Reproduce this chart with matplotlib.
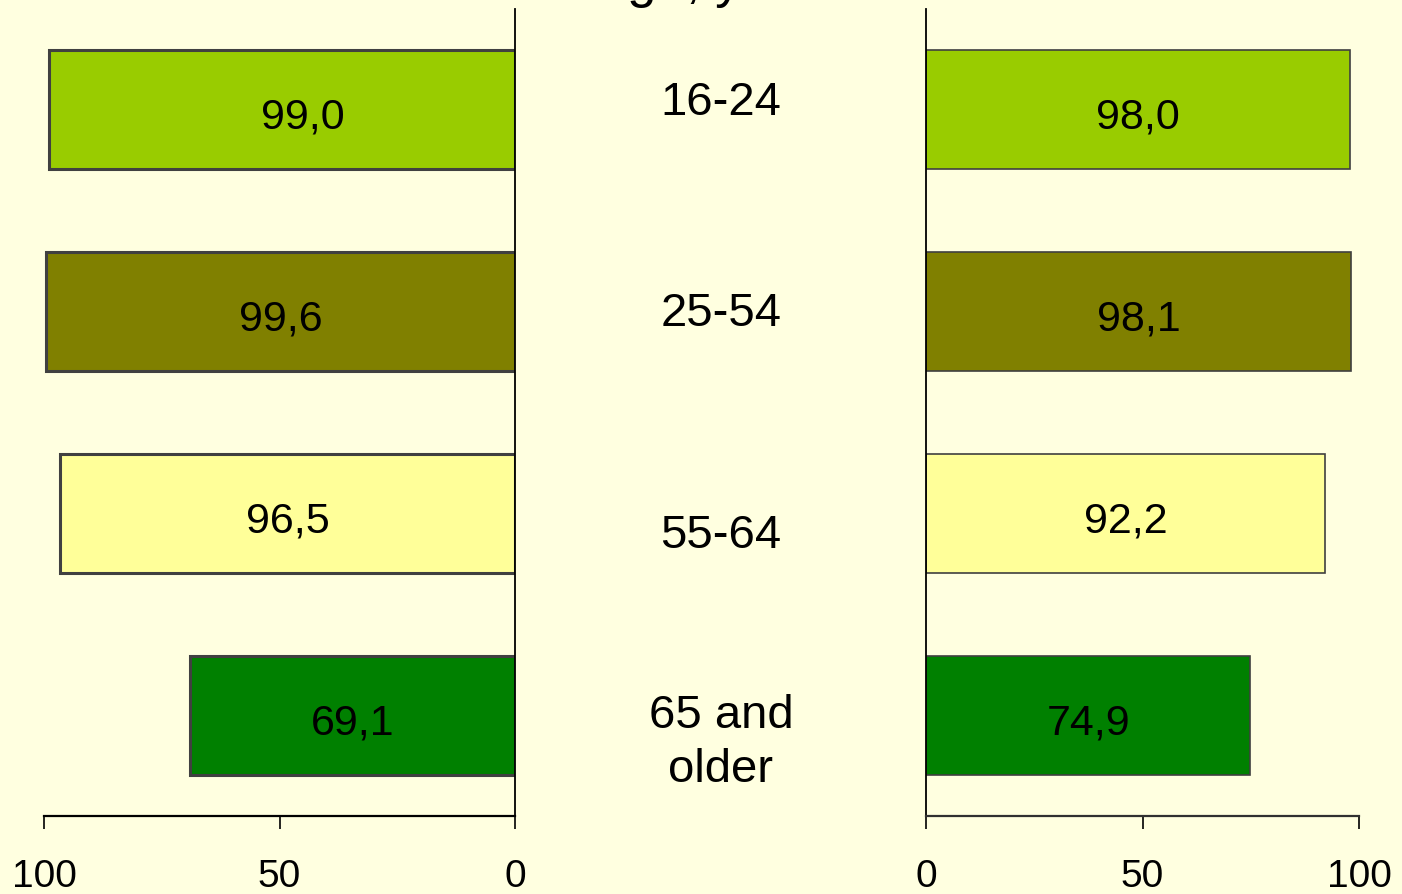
import matplotlib
matplotlib.use("Agg")
import matplotlib.pyplot as plt

categories = ["16-24", "25-54", "55-64", "65 and\nolder"]
left_values = [99.0, 99.6, 96.5, 69.1]
right_values = [98.0, 98.1, 92.2, 74.9]
left_labels = ["99,0", "99,6", "96,5", "69,1"]
right_labels = ["98,0", "98,1", "92,2", "74,9"]
colors = ["#99CC00", "#808000", "#FFFF99", "#008000"]
ticks = [0, 50, 100]
tick_labels = ["0", "50", "100"]

plt.rcParams['font.family'] = ['Liberation Sans', 'DejaVu Sans']
BG = "#FFFFE0"
W, H = 1402, 895
fig = plt.figure(figsize=(W / 100, H / 100), dpi=100, facecolor=BG)

def px_rect(x0, x1, ytop, ybot):
    return [x0 / W, 1 - ybot / H, (x1 - x0) / W, (ybot - ytop) / H]

axL = fig.add_axes(px_rect(44, 515, 10, 817))
axR = fig.add_axes(px_rect(926, 1359, 10, 817))

ypos = list(range(len(categories)))
bar_h = 0.59

for ax, vals, labs, lw in [(axL, left_values, left_labels, 2.2), (axR, right_values, right_labels, 1.2)]:
    ax.set_facecolor("none")
    ax.barh(ypos, vals, height=bar_h, color=colors, edgecolor="#404040", linewidth=lw, zorder=2)
    for i, (y, v, t) in enumerate(zip(ypos, vals, labs)):
        xshift = -4.5 if (ax is axL and i == 0) else 0
        ax.text(v / 2 + xshift, y + 0.035, t, ha="center", va="center", fontsize=31,
                color="black", zorder=3)
    ax.set_xlim(0, 100)
    ax.set_ylim(3.5, -0.5)
    ax.set_yticks([])
    ax.set_xticks(ticks)
    ax.set_xticklabels(tick_labels, fontsize=28)
    ax.tick_params(axis="x", direction="out", length=9, width=1.2, pad=21, color="black")
    ax.spines["top"].set_visible(False)
    ax.spines["bottom"].set_linewidth(1.6)

axL.invert_xaxis()
axL.spines["left"].set_visible(False)
axL.spines["right"].set_linewidth(1.3)
axR.spines["right"].set_visible(False)
axR.spines["left"].set_linewidth(1.3)
axR.spines["bottom"].set_color("#303030")

# category labels in the middle gap
offsets = [0.009, -0.002, -0.024, -0.030]
for i, c in enumerate(categories):
    yy = axL.transData.transform((0, ypos[i]))[1]
    fig.text(721 / W, yy / H + offsets[i], c,
             ha="center", va="center", fontsize=34, linespacing=1.3)

fig.text(718 / W, 1.003, "Age, years", ha="center", va="baseline", fontsize=38)

fig.savefig("out.png", dpi=100, facecolor=BG)
